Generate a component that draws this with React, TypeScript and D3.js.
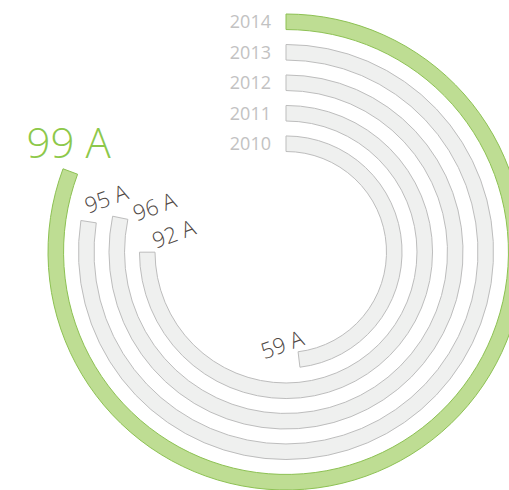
import React from "react";
import * as d3 from "d3";

const years = ["2010", "2011", "2012", "2013", "2014"];
const values = [59, 92, 96, 95, 99];
const unit = "A";
const highlightYear = "2014";
const scaleMax = 122.7;

const W = 509;
const H = 490;
const cx = 286;
const cy = 252;

// label placement tweaks: [angle delta (deg), radius delta from ring inner/outer]
const labelTweak: Record<string, [number, number]> = {
  "2010": [9.3, -7.9],
  "2011": [9.3, -17.2],
  "2012": [7.45, -22.4],
  "2013": [7.8, -4.5],
  "2014": [6.2, 5.3],
};

export default function App() {
  const angle = d3.scaleLinear().domain([0, scaleMax]).range([0, 2 * Math.PI]);
  const band = d3.scaleBand<string>().domain(years).range([100.5, 238]).paddingInner(0.49).paddingOuter(0);
  const arc = d3.arc<any>();

  return (
    <svg width={W} height={H} style={{ position: "absolute", left: 0, top: 0, background: "#fff" }}
      fontFamily="'Open Sans', sans-serif">
      <g transform={`translate(${cx},${cy})`}>
        {years.map((y, i) => {
          const r0 = band(y)!;
          const r1 = r0 + band.bandwidth();
          const hi = y === highlightYear;
          const d = arc({ innerRadius: r0, outerRadius: r1, startAngle: 0, endAngle: angle(values[i]) });
          return (
            <path key={y} d={d || ""} fill={hi ? "#bedd93" : "#eff0ef"} stroke={hi ? "#8dc153" : "#bdbdbd"} strokeWidth={1} />
          );
        })}
        {years.map((y) => {
          const rm = band(y)! + band.bandwidth() / 2;
          return (
            <text key={"y" + y} x={-15} y={-rm} dy="0.36em" textAnchor="end" fontSize={18} fill="#c2c2c2">{y}</text>
          );
        })}
        {years.map((y, i) => {
          const hi = y === highlightYear;
          const [da, dr] = labelTweak[y];
          const a = angle(values[i]) + (da * Math.PI) / 180;
          const r = hi ? band(y)! + band.bandwidth() + dr : band(y)! + dr;
          const x = r * Math.sin(a);
          const yy = -r * Math.cos(a);
          return (
            <text key={"v" + y} transform={`translate(${x},${yy}) rotate(${hi ? 0 : -20})`} dy="0.36em"
              textAnchor="middle" fontSize={hi ? 42 : 22} fontWeight={300} fill={hi ? "#8dc84a" : "#4f4845"}>
              {`${values[i]} ${unit}`}
            </text>
          );
        })}
      </g>
    </svg>
  );
}
